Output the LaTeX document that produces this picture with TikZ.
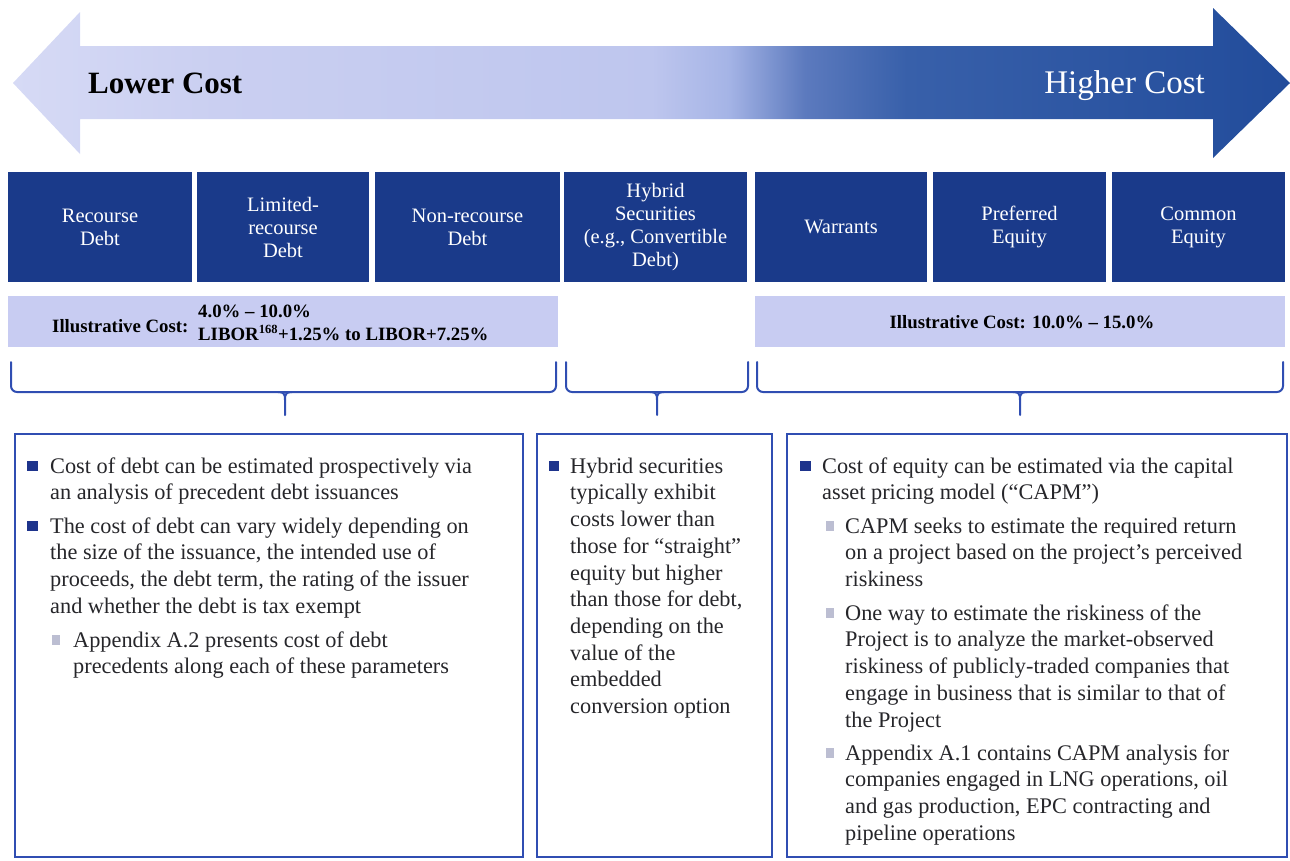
\documentclass[tikz,border=0pt]{standalone}
\usepackage{fontspec}
\setmainfont{Liberation Serif}
\usetikzlibrary{calc}
\definecolor{navy}{RGB}{26,58,138}
\definecolor{barfill}{RGB}{200,204,242}
\definecolor{rule}{RGB}{48,78,178}
\definecolor{ink}{RGB}{38,38,42}
\definecolor{bulletc}{RGB}{30,52,140}
\definecolor{subbullet}{RGB}{188,190,210}
\definecolor{arL}{RGB}{214,218,245}
\definecolor{arA}{RGB}{202,207,241}
\definecolor{arB}{RGB}{190,198,238}
\definecolor{arC}{RGB}{165,180,230}
\definecolor{arD}{RGB}{92,122,190}
\definecolor{arE}{RGB}{56,96,170}
\definecolor{arR}{RGB}{34,76,155}
\pgfdeclarehorizontalshading{costarrow}{100bp}{color(0bp)=(arL); color(25bp)=(arL);
  color(33bp)=(arA); color(50bp)=(arB); color(53bp)=(arC); color(56bp)=(arD);
  color(60bp)=(arE); color(75bp)=(arR); color(100bp)=(arR)}
\begin{document}
\begin{tikzpicture}[x=1pt,y=-1pt,
  catbox/.style={fill=navy, text=white, inner sep=0pt, align=center,
    minimum height=110pt, font=\fontsize{20.5}{23}\selectfont},
  costbar/.style={fill=barfill, inner sep=0pt, minimum height=51pt},
  costtext/.style={inner sep=0pt, text=black, font=\fontsize{18.8}{23}\selectfont\bfseries},
  panel/.style={draw=rule, line width=2pt, inner sep=0pt, minimum height=423pt},
  bracket/.style={draw=rule, line width=2pt, line cap=round},
  item/.style={anchor=north west, inner sep=0pt, align=left, text=ink,
    font=\fontsize{22.3}{26.7}\selectfont},
  bul/.style={fill=bulletc, inner sep=0pt, minimum size=10.5pt},
  subbul/.style={fill=subbullet, inner sep=0pt, minimum width=8pt, minimum height=10pt}]
\useasboundingbox (0,0) rectangle (1290,860);

% cost arrow
\shade[shading=costarrow] (13,83) -- (80,12) -- (80,46) -- (1213,46) -- (1213,8)
  -- (1290,83) -- (1213,158) -- (1213,119) -- (80,119) -- (80,154) -- cycle;
\node[anchor=base west, inner sep=0pt, font=\fontsize{31}{36}\selectfont\bfseries] (low) at (88,93) {Lower Cost};
\node[anchor=base east, inner sep=0pt, text=white, font=\fontsize{33}{36}\selectfont] (high) at (1205,93) {Higher Cost};

% categories
\node[catbox, minimum width=184pt] (rd)   at (100,227)   {Recourse\\Debt};
\node[catbox, minimum width=172pt] (lrd)  at (283,227)   {Limited-\\recourse\\Debt};
\node[catbox, minimum width=185pt] (nrd)  at (467.5,227) {Non-recourse\\Debt};
\node[catbox, minimum width=183pt] (hyb)  at (655.5,227) {Hybrid\\Securities\\(e.g., Convertible\\Debt)};
\node[catbox, minimum width=172pt] (war)  at (841,227)   {Warrants};
\node[catbox, minimum width=173pt] (pref) at (1019.5,227){Preferred\\Equity};
\node[catbox, minimum width=173pt] (com)  at (1198.5,227){Common\\Equity};

% illustrative cost bars
\node[costbar, minimum width=550pt] (debtbar) at (283,321.5) {};
\node[costbar, minimum width=530pt] (eqbar) at (1020,321.5) {};
\node[costtext, anchor=base west] (dlab) at (52,332) {Illustrative Cost:};
\node[costtext, anchor=base west] (dr1) at (198,317) {4.0\% -- 10.0\%};
\node[costtext, anchor=base west] (dr2) at (198,340) {LIBOR\textsuperscript{\fontsize{12.5}{13}\selectfont 168}+1.25\% to LIBOR+7.25\%};
\node[costtext, anchor=base] (elab) at (1022,328) {Illustrative Cost: 10.0\% -- 15.0\%};

% brackets
\coordinate (b1l) at (11,362);  \coordinate (b1r) at (556,362);  \coordinate (b1t) at (285,415);
\coordinate (b2l) at (566,362); \coordinate (b2r) at (748,362);  \coordinate (b2t) at (657,415);
\coordinate (b3l) at (757,362); \coordinate (b3r) at (1283,362); \coordinate (b3t) at (1020,415);
\foreach \l/\r/\t in {b1l/b1r/b1t, b2l/b2r/b2t, b3l/b3r/b3t}{
  \draw[bracket, rounded corners=6pt] (\l) |- ($(\l)!0.5!(\r)+(0,30)$) -| (\r);
  \draw[bracket] ($(\t |- \l)+(-7,30)$) .. controls ($(\t |- \l)+(-1,30)$) and ($(\t |- \l)+(0,32)$) .. ($(\t |- \l)+(0,38)$) -- (\t);
  \draw[bracket] ($(\t |- \l)+(7,30)$) .. controls ($(\t |- \l)+(1,30)$) and ($(\t |- \l)+(0,32)$) .. ($(\t |- \l)+(0,38)$);
}

% description panels
\node[panel, minimum width=508pt] (debtpanel) at (269,645.5) {};
\node[panel, minimum width=235pt] (hybpanel) at (654.5,645.5) {};
\node[panel, minimum width=500pt] (eqpanel) at (1037,645.5) {};

% debt panel
\node[bul] (d1b) at (32.5,466) {};
\node[item] (d1) at (50,457) {\rule{0pt}{16pt}Cost of debt can be estimated prospectively via\\an analysis of precedent debt issuances};
\node[bul] (d2b) at (32.5,526) {};
\node[item] (d2) at (50,517) {\rule{0pt}{16pt}The cost of debt can vary widely depending on\\the size of the issuance, the intended use of\\proceeds, the debt term, the rating of the issuer\\and whether the debt is tax exempt};
\node[subbul] (d3b) at (56,640) {};
\node[item] (d3) at (73,631) {\rule{0pt}{16pt}Appendix A.2 presents cost of debt\\precedents along each of these parameters};

% hybrid panel
\node[bul] (h1b) at (554,466) {};
\node[item] (h1) at (570,457) {\rule{0pt}{16pt}Hybrid securities\\typically exhibit\\costs lower than\\those for “straight”\\equity but higher\\than those for debt,\\depending on the\\value of the\\embedded\\conversion option};

% equity panel
\node[bul] (e1b) at (805.5,466) {};
\node[item] (e1) at (822,457) {\rule{0pt}{16pt}Cost of equity can be estimated via the capital\\asset pricing model (“CAPM”)};
\node[subbul] (e2b) at (830,526) {};
\node[item] (e2) at (845,517) {\rule{0pt}{16pt}CAPM seeks to estimate the required return\\on a project based on the project’s perceived\\riskiness};
\node[subbul] (e3b) at (830,613) {};
\node[item] (e3) at (845,604) {\rule{0pt}{16pt}One way to estimate the riskiness of the\\Project is to analyze the market-observed\\riskiness of publicly-traded companies that\\engage in business that is similar to that of\\the Project};
\node[subbul] (e4b) at (830,753) {};
\node[item] (e4) at (845,744) {\rule{0pt}{16pt}Appendix A.1 contains CAPM analysis for\\companies engaged in LNG operations, oil\\and gas production, EPC contracting and\\pipeline operations};
\end{tikzpicture}
\end{document}
